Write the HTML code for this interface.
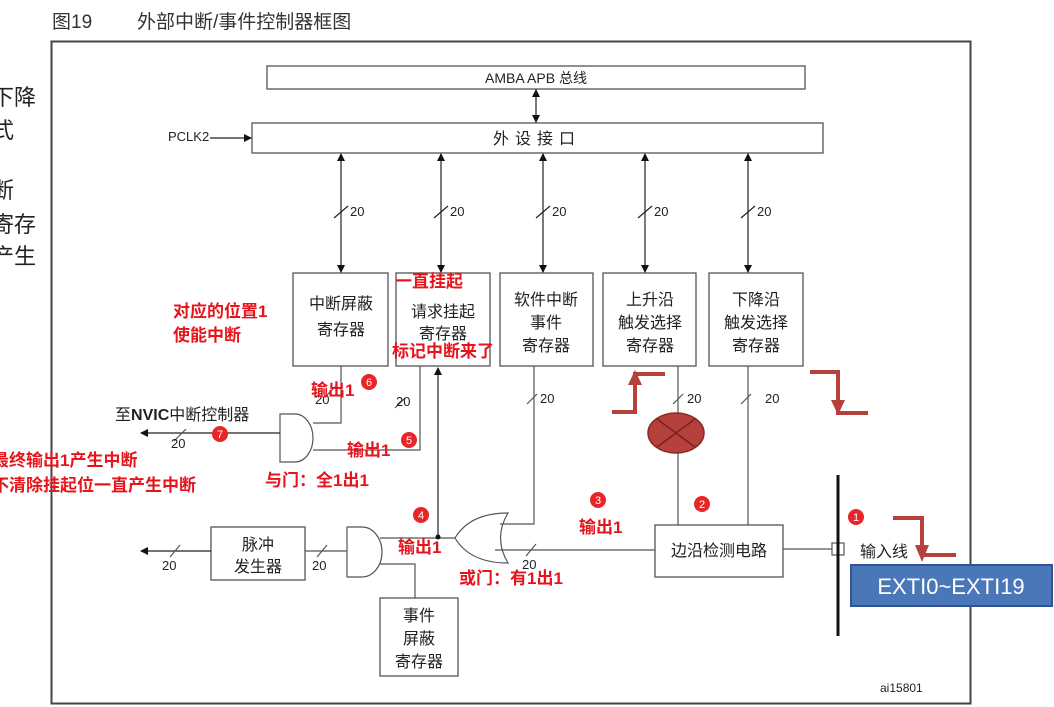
<!DOCTYPE html>
<html><head><meta charset="utf-8"><style>
html,body{margin:0;padding:0;background:#fff;}
svg{display:block;font-family:"Liberation Sans","Noto Sans CJK SC",sans-serif;}
.r{fill:#e8141c;font-weight:bold;font-size:17px;}
.t{font-size:16px;fill:#222;}
.s{font-size:13px;fill:#222;}
</style></head><body>
<svg width="1054" height="707" viewBox="0 0 1054 707" xmlns="http://www.w3.org/2000/svg">
<defs>
<marker id="a" markerWidth="8" markerHeight="8" refX="7" refY="4" orient="auto" markerUnits="userSpaceOnUse"><path d="M0,0 L8,4 L0,8 z" fill="#111"/></marker>
<marker id="b" markerWidth="8" markerHeight="8" refX="1" refY="4" orient="auto" markerUnits="userSpaceOnUse"><path d="M8,0 L0,4 L8,8 z" fill="#111"/></marker>
</defs>
<text x="52" y="28" style="font-size:19px;fill:#333">图19</text>
<text x="137" y="28" style="font-size:19px;fill:#333">外部中断/事件控制器框图</text>
<g style="font-size:22px;fill:#222">
<text x="-8" y="105">下降</text><text x="-8" y="138">式</text>
<text x="-8" y="198">断</text><text x="-8" y="232">寄存</text><text x="-8" y="264">产生</text>
</g>
<rect x="51.5" y="41.5" width="919" height="662" fill="none" stroke="#444" stroke-width="2"/>
<g stroke="#555" stroke-width="1.3" fill="none">
<rect x="267" y="66" width="538" height="23"/>
<rect x="252" y="123" width="571" height="30"/>
<rect x="293" y="273" width="95" height="93"/>
<rect x="396" y="273" width="94" height="93"/>
<rect x="500" y="273" width="93" height="93"/>
<rect x="603" y="273" width="93" height="93"/>
<rect x="709" y="273" width="94" height="93"/>
<rect x="655" y="525" width="128" height="52"/>
<rect x="211" y="527" width="94" height="53"/>
<rect x="380" y="598" width="78" height="78"/>
</g>
<text x="536" y="83" text-anchor="middle" class="s" style="font-size:14px">AMBA APB 总线</text>
<text x="537" y="144" text-anchor="middle" class="t" style="letter-spacing:6px">外设接口</text>
<text x="168" y="141" class="s">PCLK2</text>
<g stroke="#222" stroke-width="1.2" fill="none">
<line x1="210" y1="138" x2="251" y2="138" marker-end="url(#a)"/>
<line x1="536" y1="90" x2="536" y2="122" marker-end="url(#a)" marker-start="url(#b)"/>
<line x1="341" y1="154" x2="341" y2="272" marker-end="url(#a)" marker-start="url(#b)"/>
<line x1="441" y1="154" x2="441" y2="272" marker-end="url(#a)" marker-start="url(#b)"/>
<line x1="543" y1="154" x2="543" y2="272" marker-end="url(#a)" marker-start="url(#b)"/>
<line x1="645" y1="154" x2="645" y2="272" marker-end="url(#a)" marker-start="url(#b)"/>
<line x1="748" y1="154" x2="748" y2="272" marker-end="url(#a)" marker-start="url(#b)"/>
<line x1="334" y1="218" x2="348" y2="206"/><line x1="434" y1="218" x2="448" y2="206"/><line x1="536" y1="218" x2="550" y2="206"/><line x1="638" y1="218" x2="652" y2="206"/><line x1="741" y1="218" x2="755" y2="206"/>
</g>
<g class="s"><text x="350" y="216">20</text><text x="450" y="216">20</text><text x="552" y="216">20</text><text x="654" y="216">20</text><text x="757" y="216">20</text></g>
<g class="t" text-anchor="middle">
<text x="341" y="309">中断屏蔽</text><text x="341" y="335">寄存器</text>
<text x="443" y="317">请求挂起</text><text x="443" y="339">寄存器</text>
<text x="546" y="305">软件中断</text><text x="546" y="328">事件</text><text x="546" y="351">寄存器</text>
<text x="650" y="305">上升沿</text><text x="650" y="328">触发选择</text><text x="650" y="351">寄存器</text>
<text x="756" y="305">下降沿</text><text x="756" y="328">触发选择</text><text x="756" y="351">寄存器</text>
<text x="719" y="556">边沿检测电路</text>
<text x="258" y="550">脉冲</text><text x="258" y="572">发生器</text>
<text x="419" y="621">事件</text><text x="419" y="644">屏蔽</text><text x="419" y="667">寄存器</text>
</g>
<g stroke="#555" stroke-width="1.2" fill="none">
<path d="M341,366 V423 H313"/>
<path d="M420,366 V450 H313"/>
<path d="M280,414 H295 A18,24 0 0 1 295,462 H280 Z"/>
<line x1="280" y1="433" x2="141" y2="433" marker-end="url(#a)" stroke="#222"/>
<line x1="174" y1="441" x2="186" y2="429"/>
<line x1="438" y1="537" x2="438" y2="368" marker-end="url(#a)" stroke="#222"/>
<path d="M534,366 V524 H500"/>
<path d="M655,550 H495"/>
<path d="M455,538 Q470,513 508,513 Q493,538 508,563 Q470,563 455,538 Z"/>
<path d="M455,538 H380"/>
<path d="M347,527 H362 A20,25 0 0 1 362,577 H347 Z"/>
<path d="M415,598 V564 H380"/>
<line x1="347" y1="551" x2="305" y2="551"/>
<line x1="211" y1="551" x2="141" y2="551" marker-end="url(#a)" stroke="#222"/>
<line x1="170" y1="557" x2="180" y2="545"/><line x1="317" y1="557" x2="327" y2="545"/><line x1="526" y1="556" x2="536" y2="544"/>
<line x1="395" y1="408" x2="405" y2="398"/><line x1="326" y1="396" x2="336" y2="386"/>
<line x1="527" y1="404" x2="537" y2="394"/><line x1="673" y1="404" x2="683" y2="394"/><line x1="741" y1="404" x2="751" y2="394"/>
<path d="M678,366 V525"/><path d="M748,366 V525"/>
<path d="M783,549 H833"/>
<rect x="832" y="543" width="12" height="12" fill="#fff"/>
</g>
<circle cx="438" cy="537" r="2.5" fill="#111"/>
<line x1="838" y1="475" x2="838" y2="636" stroke="#111" stroke-width="3"/>
<g class="s"><text x="315" y="404">20</text><text x="396" y="406">20</text><text x="540" y="403">20</text><text x="687" y="403">20</text><text x="765" y="403">20</text>
<text x="171" y="448">20</text><text x="162" y="570">20</text><text x="312" y="570">20</text><text x="522" y="569">20</text></g>
<text x="115" y="420" class="t">至<tspan font-weight="bold">NVIC</tspan>中断控制器</text>
<text x="860" y="557" class="t">输入线</text>
<text x="880" y="692" class="s" style="font-size:12px">ai15801</text>
<ellipse cx="676" cy="433" rx="28" ry="20" fill="#b5403c" stroke="#8a2a28" stroke-width="1.5"/>
<path d="M657,419 L695,447 M695,419 L657,447" stroke="#7a2020" stroke-width="1.5"/>
<g stroke="#b5403c" stroke-width="4" fill="none">
<path d="M612,412 H635 V374 H665"/><path d="M810,372 H838 V413 H868"/><path d="M893,518 H922 V555 H956"/>
</g>
<path d="M628,385 L635,370 L642,385 Z" fill="#b5403c"/>
<path d="M831,400 L838,415 L845,400 Z" fill="#b5403c"/>
<path d="M915,545 L922,562 L929,545 Z" fill="#b5403c"/>
<rect x="851" y="565" width="201" height="41" fill="#4a77b8" stroke="#2e5590" stroke-width="2"/>
<text x="951" y="594" text-anchor="middle" style="font-size:22px;fill:#fff">EXTI0~EXTI19</text>
<g class="r">
<text x="173" y="317">对应的位置1</text><text x="173" y="341">使能中断</text>
<text x="395" y="287">一直挂起</text><text x="392" y="357">标记中断来了</text>
<text x="311" y="396">输出1</text><text x="347" y="456">输出1</text>
<text x="-8" y="466">最终输出1产生中断</text><text x="-8" y="491">不清除挂起位一直产生中断</text>
<text x="265" y="486">与门：全1出1</text>
<text x="398" y="553">输出1</text><text x="459" y="584">或门：有1出1</text><text x="579" y="533">输出1</text>
</g>
<g fill="#e8262a">
<circle cx="369" cy="382" r="8"/><circle cx="409" cy="440" r="8"/><circle cx="220" cy="434" r="8"/>
<circle cx="421" cy="515" r="8"/><circle cx="598" cy="500" r="8"/><circle cx="702" cy="504" r="8"/><circle cx="856" cy="517" r="8"/>
</g>
<g style="font-size:11px;fill:#fff" text-anchor="middle">
<text x="369" y="386">6</text><text x="409" y="444">5</text><text x="220" y="438">7</text><text x="421" y="519">4</text><text x="598" y="504">3</text><text x="702" y="508">2</text><text x="856" y="521">1</text>
</g>
</svg>
</body></html>
